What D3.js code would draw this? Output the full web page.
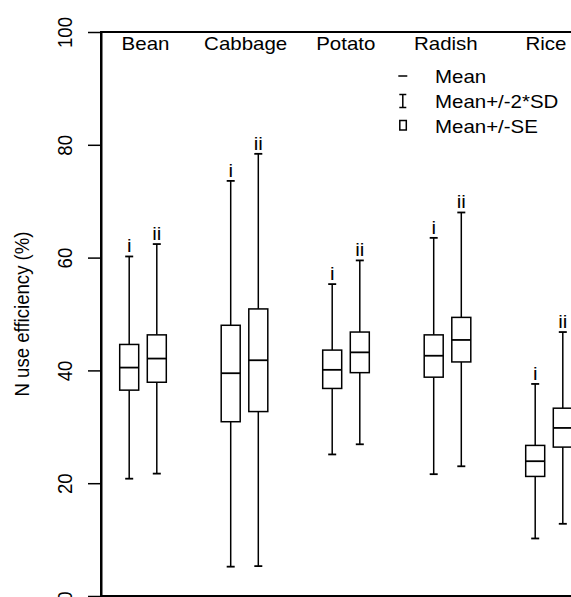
<!DOCTYPE html>
<html><head><meta charset="utf-8">
<script src="https://cdn.jsdelivr.net/npm/d3@7"></script>
<style>
body{margin:0;background:#fff;}
svg text{font-family:"Liberation Sans",Arial,sans-serif;fill:#000;}
</style></head>
<body><svg id="c" width="571" height="597"></svg>
<script>
const categories = ["Bean","Cabbage","Potato","Radish","Rice"];
const groups = ["i","ii"];
// per category: [i, ii]
const means   = [[40.5,42.1],[39.5,41.8],[40.1,43.2],[42.6,45.4],[23.9,29.8]];
const seLow   = [[36.5,37.9],[30.9,32.7],[36.8,39.6],[38.8,41.5],[21.2,26.4]];
const seHigh  = [[44.6,46.3],[48.0,50.9],[43.6,46.8],[46.3,49.4],[26.7,33.3]];
const sdLow   = [[20.8,21.7],[5.2,5.3],[25.1,26.9],[21.6,23.0],[10.2,12.8]];
const sdHigh  = [[60.2,62.4],[73.6,78.4],[55.3,59.5],[63.5,68.0],[37.6,46.8]];
const yTicks = [0,20,40,60,80,100];
const legendLabels = ["Mean","Mean+/-2*SD","Mean+/-SE"];
const yTitle = "N use efficiency (%)";

const svg = d3.select("#c");
const W = 571, H = 597;
const y = d3.scaleLinear().domain([0,100]).range([596,32]);
const x = d3.scalePoint().domain(categories).range([143,549]);
const xLab = d3.scalePoint().domain(categories).range([145.5,546]);
const off = d3.scalePoint().domain(groups).range([-13.8,13.8]);
const boxW = 19, capW = 8;
const fs = 18.6, sx = 1.1;

// frame
const x0 = 101;
svg.append("rect").attr("x",x0).attr("y",y(100)).attr("width",W+20-x0).attr("height",y(0)-y(100))
  .attr("fill","none").attr("stroke","#000").attr("stroke-width",2);

// y axis
const ax = svg.append("g").attr("transform",`translate(${x0},0)`)
  .call(d3.axisLeft(y).tickValues(yTicks).tickSize(13).tickSizeOuter(0).tickFormat(d3.format("d")));
ax.select(".domain").attr("stroke-width",2);
ax.selectAll(".tick line").attr("stroke-width",1.5);
ax.selectAll(".tick text").attr("font-size",fs).attr("text-anchor","middle")
  .attr("x",null).attr("dy",null)
  .attr("transform",`translate(-29,0) scale(${sx},1) rotate(-90)`);
ax.attr("font-family",null);

svg.append("text").attr("transform",`translate(29,${(y(0)+y(100))/2}) scale(${sx},1) rotate(-90)`)
  .attr("text-anchor","middle").attr("font-size",fs).text(yTitle);

// category labels
svg.selectAll(".cat").data(categories).join("text").attr("class","cat")
  .attr("transform",d=>`translate(${xLab(d)},50) scale(${sx},1)`)
  .attr("text-anchor","middle").attr("font-size",fs).text(d=>d);

// boxes
const items = [];
categories.forEach((c,ci)=>groups.forEach((g,gi)=>items.push({c,g,
  m:means[ci][gi], sl:seLow[ci][gi], sh:seHigh[ci][gi], dl:sdLow[ci][gi], dh:sdHigh[ci][gi]})));
const gb = svg.selectAll(".b").data(items).join("g").attr("class","b")
  .attr("transform",d=>`translate(${x(d.c)+off(d.g)},0)`)
  .attr("stroke","#000").attr("fill","none");
gb.append("line").attr("y1",d=>y(d.sh)).attr("y2",d=>y(d.dh)).attr("stroke-width",1.5);
gb.append("line").attr("y1",d=>y(d.sl)).attr("y2",d=>y(d.dl)).attr("stroke-width",1.5);
gb.append("line").attr("x1",-capW/2).attr("x2",capW/2).attr("y1",d=>y(d.dh)).attr("y2",d=>y(d.dh)).attr("stroke-width",1.8);
gb.append("line").attr("x1",-capW/2).attr("x2",capW/2).attr("y1",d=>y(d.dl)).attr("y2",d=>y(d.dl)).attr("stroke-width",1.8);
gb.append("rect").attr("x",-boxW/2).attr("width",boxW).attr("y",d=>y(d.sh)).attr("height",d=>y(d.sl)-y(d.sh))
  .attr("fill","#fff").attr("stroke-width",1.5);
gb.append("line").attr("x1",-boxW/2).attr("x2",boxW/2).attr("y1",d=>y(d.m)).attr("y2",d=>y(d.m)).attr("stroke-width",1.8);
gb.append("text").attr("stroke","none").attr("text-anchor","middle").attr("font-size",fs)
  .attr("transform",d=>`translate(0,${y(d.dh)-4}) scale(${sx},1)`).text(d=>d.g);

// legend
const lx = 402.8, ty = [82.5,108,133];
const lg = svg.append("g").attr("stroke","#000").attr("fill","none").attr("stroke-width",1.5);
lg.append("line").attr("x1",lx-4.5).attr("x2",lx+4.5).attr("y1",ty[0]-6.5).attr("y2",ty[0]-6.5);
lg.append("line").attr("x1",lx).attr("x2",lx).attr("y1",ty[1]-13.5).attr("y2",ty[1]-0.5);
lg.append("line").attr("x1",lx-3.5).attr("x2",lx+3.5).attr("y1",ty[1]-13.5).attr("y2",ty[1]-13.5);
lg.append("line").attr("x1",lx-3.5).attr("x2",lx+3.5).attr("y1",ty[1]-0.5).attr("y2",ty[1]-0.5);
lg.append("rect").attr("x",lx-3).attr("y",ty[2]-12.5).attr("width",6.5).attr("height",9.5);
svg.selectAll(".lt").data(legendLabels).join("text").attr("class","lt")
  .attr("transform",(d,i)=>`translate(435,${ty[i]}) scale(${sx},1)`).attr("font-size",fs).text(d=>d);
</script></body></html>
